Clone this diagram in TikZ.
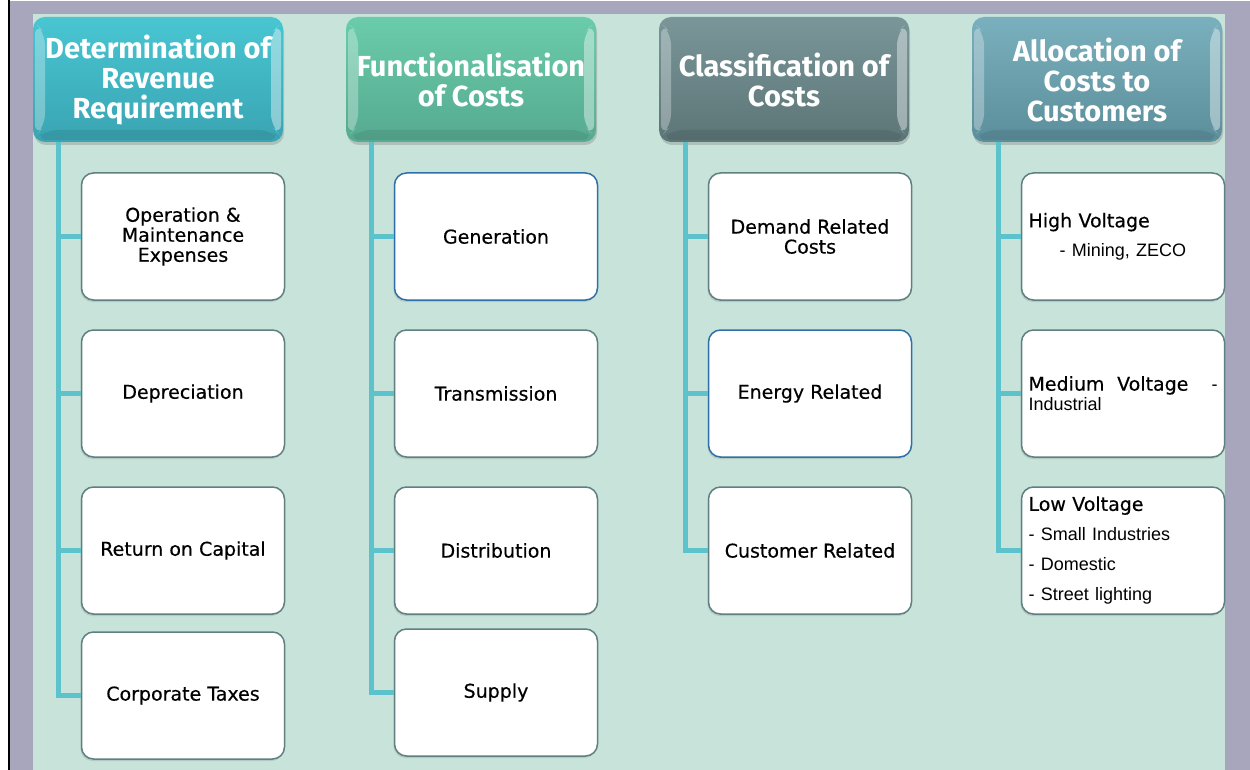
\documentclass[tikz,border=0pt]{standalone}
\usepackage{fontspec}
\usetikzlibrary{positioning,shadows}
\newfontfamily\headfont{Fira Sans}
\newfontfamily\boxfont[FakeBold=0.4]{DejaVu Sans}
\newfontfamily\lightfont{Liberation Sans}
\definecolor{panel}{HTML}{C7E3DA}
\definecolor{frame}{HTML}{A7A6BC}
\definecolor{trunkc}{HTML}{5CC2CC}
\definecolor{boxline}{HTML}{5F7F80}
\definecolor{boxblue}{HTML}{3070A8}
\definecolor{revtop}{HTML}{48C6D2}
\definecolor{revbot}{HTML}{3AA4B2}
\definecolor{funtop}{HTML}{6ACCAA}
\definecolor{funbot}{HTML}{56AA90}
\definecolor{clatop}{HTML}{7A9699}
\definecolor{clabot}{HTML}{5C7577}
\definecolor{alltop}{HTML}{7AB0BD}
\definecolor{allbot}{HTML}{5C8E9B}
\newcommand{\lt}{\lightfont\fontsize{18}{20}\selectfont}

\begin{document}
\begin{tikzpicture}[x=1pt, y=1pt, node distance=157pt, on grid,
  headbox/.style={rectangle, rounded corners=12pt, minimum width=250pt, minimum height=125pt,
    align=center, text=white, font=\headfont\bfseries\fontsize{29}{30}\selectfont,
    drop shadow={shadow xshift=1pt, shadow yshift=-3pt, opacity=.35},
    path picture={
      \fill[white, opacity=.3] ([xshift=2pt,yshift=-6pt]path picture bounding box.north west)
        -- ++(10pt,-10pt) -- ([xshift=12pt,yshift=16pt]path picture bounding box.south west)
        -- ++(-10pt,-10pt) -- cycle;
      \fill[white, opacity=.4] ([xshift=-2pt,yshift=-6pt]path picture bounding box.north east)
        -- ++(-10pt,-10pt) -- ([xshift=-12pt,yshift=16pt]path picture bounding box.south east)
        -- ++(10pt,-10pt) -- cycle;
      \fill[black, opacity=.08] ([xshift=2pt,yshift=2pt]path picture bounding box.south west)
        -- ++(10pt,10pt) -- ([xshift=-12pt,yshift=12pt]path picture bounding box.south east)
        -- ++(10pt,-10pt) -- cycle;}},
  itembox/.style={rectangle, rounded corners=12pt, draw=boxline, line width=1.5pt, fill=white,
    minimum width=203pt, minimum height=127pt, align=center,
    font=\boxfont\fontsize{19}{20}\selectfont,
    drop shadow={shadow xshift=-1pt, shadow yshift=-2pt, opacity=.25}},
  listbox/.style={itembox, align=left, text width=189pt, inner xsep=7pt},
  branch/.style={draw=trunkc, line width=5pt}]
\useasboundingbox (0,0) rectangle (1250,-770);
% frame and panel
\fill[white] (0,0) rectangle (1250,-770);
\fill[frame] (10,-1) rectangle (1250,-770);
\draw[black, line width=2pt] (9,0) -- (9,-770);
\fill[panel] (33,-14) rectangle (1225,-770);

% headings
\node[headbox, top color=revtop, bottom color=revbot] (h1) at (158,-79.5) {Determination of\\Revenue\\Requirement};
\node[headbox, top color=funtop, bottom color=funbot] (h2) [right=313pt of h1] {Functionalisation\\of Costs};
\node[headbox, top color=clatop, bottom color=clabot] (h3) [right=313pt of h2] {Classification of\\Costs};
\node[headbox, top color=alltop, bottom color=allbot] (h4) [right=313pt of h3] {Allocation of\\Costs to\\Customers};

% revenue requirement
\node[itembox] (c11) [below right=157pt and 25pt of h1] {Operation \&\\Maintenance\\Expenses};
\node[itembox] (c12) [below=of c11] {Depreciation};
\node[itembox] (c13) [below=of c12] {Return on Capital};
\node[itembox] (c14) [below=145pt of c13] {Corporate Taxes};

% functionalisation
\node[itembox, draw=boxblue] (c21) [below right=157pt and 25pt of h2] {Generation};
\node[itembox] (c22) [below=of c21] {Transmission};
\node[itembox] (c23) [below=of c22] {Distribution};
\node[itembox] (c24) [below=142pt of c23] {Supply};

% classification
\node[itembox] (c31) [below right=157pt and 26pt of h3] {Demand Related\\Costs};
\node[itembox, draw=boxblue] (c32) [below=of c31] {Energy Related};
\node[itembox] (c33) [below=of c32] {Customer Related};

% allocation
\node[listbox] (c41) [below right=157pt and 26pt of h4] {High Voltage\\[9pt]\hspace*{31pt}{\lt - Mining, ZECO}};
\node[listbox] (c42) [below=of c41] {Medium\ \ Voltage\hfill{\lt -}\\{\lt Industrial}};
\node[listbox] (c43) [below=of c42] {Low Voltage\\[10pt]{\lt - Small Industries}\\[10pt]{\lt - Domestic}\\[10pt]{\lt - Street lighting}};

% trunks
\coordinate (t1) at ([xshift=-100pt]h1.south);
\coordinate (t2) at ([xshift=-100pt]h2.south);
\coordinate (t3) at ([xshift=-99pt]h3.south);
\coordinate (t4) at ([xshift=-99pt]h4.south);
\draw[branch] (t1) |- (c14.west);
\draw[branch] (t2) |- (c24.west);
\draw[branch] (t3) |- (c33.west);
\draw[branch] (t4) |- (c43.west);
\foreach \c in {c11,c12,c13} \draw[branch] (t1 |- \c.west) -- (\c.west);
\foreach \c in {c21,c22,c23} \draw[branch] (t2 |- \c.west) -- (\c.west);
\foreach \c in {c31,c32} \draw[branch] (t3 |- \c.west) -- (\c.west);
\foreach \c in {c41,c42} \draw[branch] (t4 |- \c.west) -- (\c.west);
\end{tikzpicture}
\end{document}
